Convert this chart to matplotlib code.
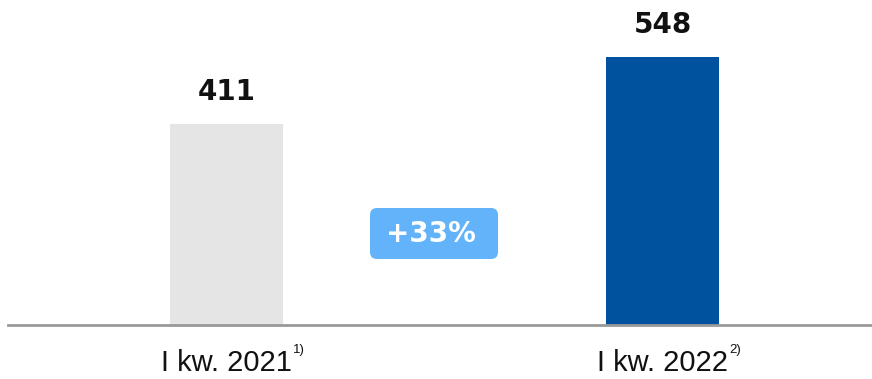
import matplotlib
matplotlib.use("Agg")
import matplotlib.pyplot as plt
from matplotlib.patches import FancyBboxPatch
from matplotlib.transforms import IdentityTransform

categories = ["I kw. 2021", "I kw. 2022"]
footnotes = ["1)", "2)"]
values = [411, 548]
colors = ["#e5e5e5", "#00529f"]

growth = round((values[1] / values[0] - 1) * 100)

fig = plt.figure(figsize=(8.72, 3.79), dpi=100)
ax = fig.add_axes([0, 54 / 379, 1, 325 / 379])
ax.set_xlim(-0.5195, 1.4805)
ax.set_ylim(0, 664.6)
ax.axis("off")

x = list(range(len(values)))
bars = ax.bar(x, values, width=0.259, color=colors, zorder=2)

# value labels above bars
for xi, v in zip(x, values):
    ax.annotate(str(v), xy=(xi, v), xytext=(0, 13), textcoords="offset points",
                ha="center", va="bottom", fontsize=20, fontweight="bold",
                family="DejaVu Sans", color="#111111")

# baseline
ax.axhline(0, xmin=8 / 872, xmax=1, color="#999999", lw=2, zorder=3, clip_on=False)

# category labels + footnote marks
for xi, cat, fn in zip(x, categories, footnotes):
    t = ax.annotate(cat, xy=(xi, 0), xytext=(0, -17), textcoords="offset points",
                    ha="center", va="top", fontsize=21, family="Liberation Sans",
                    color="#111111")
    ax.annotate(fn, xy=(1, 1), xycoords=t, xytext=(1, 3), textcoords="offset points",
                ha="left", va="top", fontsize=9.5, family="Liberation Sans",
                color="#111111")

# growth badge
badge = FancyBboxPatch((370, 120), 128, 51, boxstyle="round,pad=0,rounding_size=7",
                       fc="#62b3f9", ec="none", transform=IdentityTransform(),
                       figure=fig)
fig.patches.append(badge)
fig.text(431 / 872, 1 - 234 / 379, f"+{growth}%", ha="center", va="center",
         fontsize=20, fontweight="bold", family="DejaVu Sans", color="white")

fig.savefig("out.png", dpi=100)
